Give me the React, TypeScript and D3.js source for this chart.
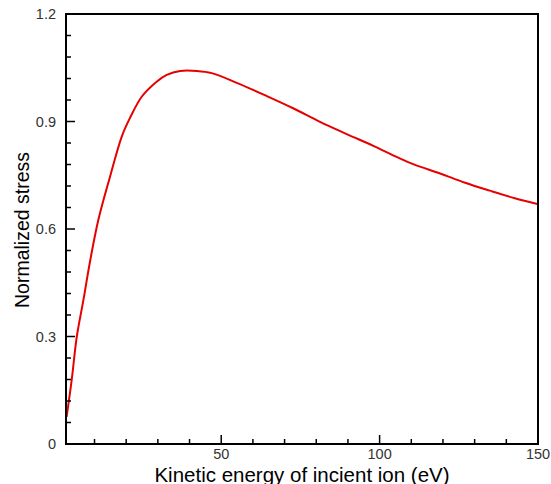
import React from 'react';
import * as d3 from 'd3';

// curve: kinetic energy (eV) vs normalized stress
const energy = [1.2, 2.8, 4.4, 6.5, 8.6, 11.2, 14.9, 18.6, 21.2, 24.9, 29.6, 32.8, 37.0, 42.3, 47.0, 54.9, 64.4, 72.7, 81.2, 89.6, 98.0, 105.9, 111.2, 119.1, 127.0, 134.8, 142.7, 149.8];
const stress = [0.076, 0.179, 0.299, 0.402, 0.510, 0.625, 0.746, 0.858, 0.910, 0.969, 1.011, 1.030, 1.041, 1.041, 1.035, 1.008, 0.971, 0.937, 0.899, 0.865, 0.832, 0.799, 0.779, 0.755, 0.729, 0.707, 0.686, 0.670];

const xMajor = [50, 100, 150];
const xMinor = [10, 20, 30, 40, 60, 70, 80, 90, 110, 120, 130, 140];
const yMajor = [0, 0.3, 0.6, 0.9, 1.2];
const yLabels = ['0', '0.3', '0.6', '0.9', '1.2'];
const yMinor = [0.06, 0.12, 0.18, 0.24, 0.36, 0.42, 0.48, 0.54, 0.66, 0.72, 0.78, 0.84, 0.96, 1.02, 1.08, 1.14];

const W = 551;
const H = 484;
const plot = { left: 66, right: 538, top: 14, bottom: 444 };

export default function App() {
  const x = d3.scaleLinear().domain([1, 150]).range([plot.left, plot.right]);
  const y = d3.scaleLinear().domain([0, 1.2]).range([plot.bottom, plot.top]);

  const pts = energy.map((e, i) => [e, stress[i]] as [number, number]);
  const line = d3.line<[number, number]>()
    .x(d => x(d[0]))
    .y(d => y(d[1]))
    .curve(d3.curveCatmullRom.alpha(0.5));

  const font = 'Arial, "Liberation Sans", Helvetica, sans-serif';

  return (
    <svg width={W} height={H} style={{ position: 'absolute', left: 0, top: 0, background: '#fff' }} fontFamily={font}>
      {/* curve */}
      <path d={line(pts) || ''} fill="none" stroke="#e60000" strokeWidth={2} />

      {/* ticks, pointing inward */}
      <g stroke="#000" strokeWidth={1.5}>
        {xMajor.map(v => (
          <line key={'xM' + v} x1={x(v)} x2={x(v)} y1={plot.bottom} y2={plot.bottom - 9} />
        ))}
        {xMinor.map(v => (
          <line key={'xm' + v} x1={x(v)} x2={x(v)} y1={plot.bottom} y2={plot.bottom - 5} />
        ))}
        {yMajor.map(v => (
          <line key={'yM' + v} x1={plot.left} x2={plot.left + 9} y1={y(v)} y2={y(v)} />
        ))}
        {yMinor.map(v => (
          <line key={'ym' + v} x1={plot.left} x2={plot.left + 5} y1={y(v)} y2={y(v)} />
        ))}
      </g>

      {/* frame */}
      <rect x={plot.left} y={plot.top} width={plot.right - plot.left} height={plot.bottom - plot.top}
        fill="none" stroke="#000" strokeWidth={2} />

      {/* tick labels */}
      <g fill="#333" fontSize={14.5}>
        {xMajor.map(v => (
          <text key={'xl' + v} x={x(v)} y={459} textAnchor="middle">{v}</text>
        ))}
        {yMajor.map((v, i) => (
          <text key={'yl' + v} x={56} y={y(v) + 5} textAnchor="end">{yLabels[i]}</text>
        ))}
      </g>

      {/* axis titles */}
      <text x={(plot.left + plot.right) / 2} y={482} textAnchor="middle" fontSize={20.5} fill="#000">
        Kinetic energy of incient ion (eV)
      </text>
      <text transform={`translate(29, 230) rotate(-90)`} textAnchor="middle" fontSize={19.5} fill="#000">
        Normalized stress
      </text>
    </svg>
  );
}
